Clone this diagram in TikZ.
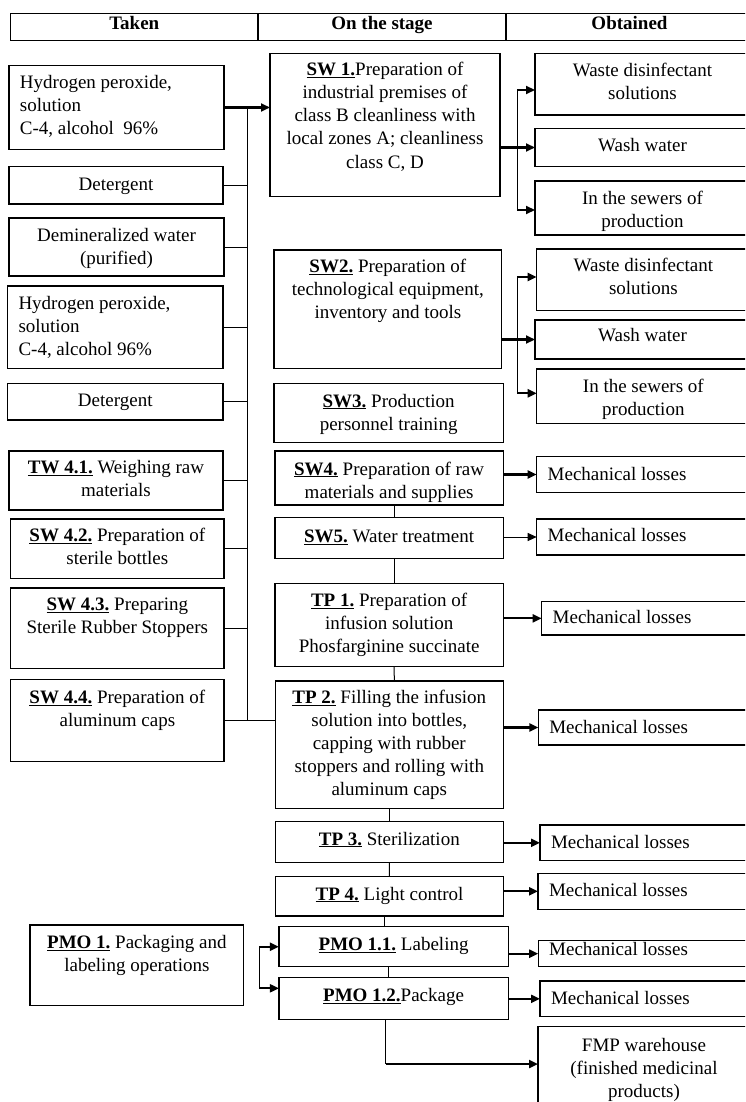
\documentclass[tikz,border=0pt]{standalone}
\usepackage{fontspec}
\setmainfont{Liberation Serif}
\usetikzlibrary{arrows.meta}
\newcommand\lbl[1]{\underline{\textbf{#1}}}
\newcommand\alC{\centering}
\newcommand\alL{\raggedright\leftskip=11pt\relax}
% name, left, top, right, bottom, first-baseline offset, alignment, text
\newcommand\BX[8]{\node[box] (#1) at ({(#2+#4)/2},{(#3+#5)/2})
  {\parbox[c][\dimexpr#5pt-#3pt\relax][t]{\dimexpr#4pt-#2pt\relax}{#7\rule{0pt}{#6pt}#8}};}
\begin{document}
\begin{tikzpicture}[x=1pt,y=-1pt,font=\fontsize{19}{23}\selectfont,
  box/.style={draw,line width=1.3pt,inner sep=0pt,outer sep=0pt},
  con/.style={line width=1pt},
  arr/.style={line width=2.2pt,-{Triangle[length=9pt,width=8pt]}},
  tarr/.style={line width=1pt,-{Triangle[length=9pt,width=8pt]}}]
\useasboundingbox (0,0) rectangle (745,1102);
\begin{scope}
\clip (0,0) rectangle (745,1102);
% header
\BX{hA}{10.5}{13.3}{258}{40.7}{16.7}{\alC\bfseries}{Taken}
\BX{hB}{258}{13.3}{506}{40.7}{16.7}{\alC\bfseries}{On the stage}
\BX{hC}{506}{13.3}{753}{40.7}{16.7}{\alC\bfseries}{Obtained}
% left column
\BX{in1}{9}{65.7}{224}{149.3}{22.6}{\alL}{Hydrogen peroxide,\\solution\\C-4, alcohol\ \ 96\%}
\BX{in2}{9}{166.7}{223}{204}{23.3}{\alC}{Detergent}
\BX{in3}{9}{218}{224}{276}{23.7}{\alC}{Demineralized water\\(purified)}
\BX{in4}{7.5}{286}{223}{368.3}{23.3}{\alL}{Hydrogen peroxide,\\solution\\C-4, alcohol 96\%}
\BX{in5}{7.5}{383.3}{223}{420}{23.4}{\alC}{Detergent}
\BX{in6}{9}{451}{223}{510}{22.3}{\alC}{\lbl{TW 4.1.} Weighing raw\\materials}
\BX{in7}{10.7}{519}{224}{578.7}{22.7}{\alC}{\lbl{SW 4.2.} Preparation of\\sterile bottles}
\BX{in8}{10.7}{588}{224}{668.3}{22.7}{\alC}{\lbl{SW 4.3.} Preparing\\Sterile Rubber Stoppers}
\BX{in9}{10.7}{679.3}{224}{761.7}{24}{\alC}{\lbl{SW 4.4.} Preparation of\\aluminum caps}
\BX{pmo}{30}{925}{243.7}{1005.3}{23.3}{\alC}{\lbl{PMO 1.} Packaging and\\labeling operations}
% middle column
\BX{sw1}{270}{53.3}{500}{196.7}{22.7}{\alC}{\lbl{SW 1.}Preparation of\\industrial premises of\\class B cleanliness with\\local zones A; cleanliness\\class C, D}
\BX{sw2}{274}{250}{501.7}{368.3}{22.7}{\alC}{\lbl{SW2.} Preparation of\\technological equipment,\\inventory and tools}
\BX{sw3}{274}{383.3}{503.3}{442.3}{23.7}{\alC}{\lbl{SW3.} Production\\personnel training}
\BX{sw4}{275}{451}{503.3}{505}{24}{\alC}{\lbl{SW4.} Preparation of raw\\materials and supplies}
\BX{sw5}{275}{517.7}{503.3}{558.3}{24.6}{\alC}{\lbl{SW5.} Water treatment}
\BX{tp1}{275}{583.3}{503.3}{666.7}{23.4}{\alC}{\lbl{TP 1.} Preparation of\\infusion solution\\Phosfarginine succinate}
\BX{tp2}{275.3}{681}{503.3}{808.3}{22.3}{\alC}{\lbl{TP 2.} Filling the infusion\\solution into bottles,\\capping with rubber\\stoppers and rolling with\\aluminum caps}
\BX{tp3}{275.3}{821.7}{503.3}{862.7}{23.3}{\alC}{\lbl{TP 3.} Sterilization}
\BX{tp4}{275.5}{876.7}{503.5}{916}{23.3}{\alC}{\lbl{TP 4.} Light control}
\BX{pmo11}{278.9}{926.7}{508.3}{966.7}{24}{\alC}{\lbl{PMO 1.1.} Labeling}
\BX{pmo12}{278.9}{977.7}{508.3}{1019.3}{24}{\alC}{\lbl{PMO 1.2.}Package}
% right column
\BX{w1}{535}{53.3}{750}{115}{23.4}{\alC}{Waste disinfectant\\solutions}
\BX{ww1}{535}{128.3}{750}{166.7}{23.4}{\alC}{Wash water}
\BX{s1}{535}{181}{750}{235}{24}{\alC}{In the sewers of\\production}
\BX{w2}{536.7}{249}{750}{310.7}{22.7}{\alC}{Waste disinfectant\\solutions}
\BX{ww2}{535}{320}{750}{359}{21.7}{\alC}{Wash water}
\BX{s2}{536.7}{369}{750}{423.3}{23.7}{\alC}{In the sewers of\\production}
\BX{m1}{536.7}{456.7}{750}{492.3}{23.3}{\alL}{Mechanical losses}
\BX{m2}{536.7}{519}{750}{555}{22.7}{\alL}{Mechanical losses}
\BX{m3}{541.7}{601.7}{750}{635}{21.6}{\alL}{Mechanical losses}
\BX{m4}{538.3}{710}{750}{745}{23.3}{\alL}{Mechanical losses}
\BX{m5}{540}{825}{750}{860.7}{23.3}{\alL}{Mechanical losses}
\BX{m6}{538}{873.3}{750}{909.3}{23.3}{\alL}{Mechanical losses}
\BX{m7}{538.2}{940.7}{750}{966.7}{14.3}{\alL}{Mechanical losses}
\BX{m8}{540}{981}{750}{1016.7}{23}{\alL}{Mechanical losses}
\BX{fmp}{538}{1026.7}{750}{1115}{25}{\alC}{FMP warehouse\\(finished medicinal\\products)}
% inputs trunk
\coordinate (tr) at (247,0);
\draw[arr] (in1.east) -- (in1.east -| sw1.west);
\draw[con] (in1.east -| tr) -- (in9.east -| tr);
\foreach \n in {in2,in3,in4,in5,in6,in7,in8}
  \draw[con] (\n.east) -- (\n.east -| tr);
\draw[con] (in9.east) -- (in9.east -| tp2.west);
% SW1 outputs
\coordinate (v1a) at (517,90);
\coordinate (v1b) at (517,210);
\draw[arr] (ww1.west -| sw1.east) -- (ww1.west);
\draw[con] (v1a) -- (v1b);
\draw[arr] (v1a) -- (v1a -| w1.west);
\draw[arr] (v1b) -- (v1b -| s1.west);
% SW2 outputs
\coordinate (v2a) at (517,277);
\coordinate (v2b) at (517,393.3);
\draw[arr] (ww2.west -| sw2.east) -- (ww2.west);
\draw[con] (v2a) -- (v2b);
\draw[arr] (v2a) -- (v2a -| w2.west);
\draw[arr] (v2b) -- (v2b -| s2.west);
% losses
\draw[arr] (m1.west -| sw4.east) -- (m1.west);
\draw[tarr] (m2.west -| sw5.east) -- (m2.west);
\draw[arr] (m3.west -| tp1.east) -- (m3.west);
\draw[arr] (m4.west -| tp2.east) -- (m4.west);
\draw[arr] (m5.west -| tp3.east) -- (m5.west);
\draw[arr] (m6.west -| tp4.east) -- (m6.west);
\draw[arr] (m7.west -| pmo11.east) -- (m7.west);
\draw[arr] (m8.west -| pmo12.east) -- (m8.west);
% chain
\draw[con] ([xshift=5pt]sw4.south) -- ([xshift=5pt]sw5.north);
\draw[con] ([xshift=5pt]sw5.south) -- ([xshift=5pt]tp1.north);
\draw[con] ([xshift=5pt]tp1.south) -- ([xshift=5pt]tp2.north);
\draw[con] (tp2.south) -- (tp3.north);
\draw[con] (tp3.south) -- (tp4.north);
\draw[con] ([xshift=-5pt]tp4.south) -- ([xshift=-5pt]tp4.south |- pmo11.north);
\draw[con] ([xshift=-5pt]pmo11.south) -- ([xshift=-5pt]pmo11.south |- pmo12.north);
% PMO bracket
\coordinate (pa) at (259,946.7);
\coordinate (pb) at (259,988.3);
\draw[con] (pa) -- (pb);
\draw[arr] (pa) -- (pa -| pmo11.west);
\draw[arr] (pb) -- (pb -| pmo12.west);
% to warehouse
\coordinate (fc) at (385.7,1064);
\draw[con] (pmo12.south -| fc) -- (fc);
\draw[arr] (fc) -- (fc -| fmp.west);
\end{scope}
\end{tikzpicture}
\end{document}
